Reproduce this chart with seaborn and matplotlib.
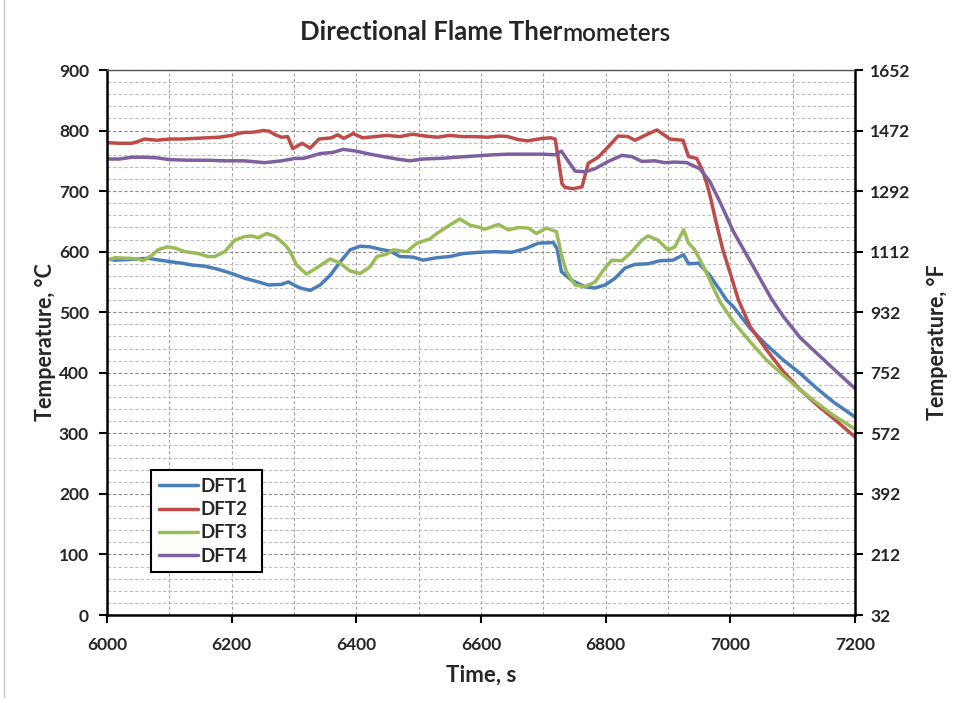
import numpy as np
import pandas as pd
import matplotlib
matplotlib.use("Agg")
import matplotlib.pyplot as plt
from matplotlib.ticker import MultipleLocator, FixedLocator
import seaborn as sns

# ---- measured data: time (s) and temperature (°C) for each thermometer ----
t_dft1 = [6000, 6013, 6034, 6050, 6066, 6085, 6104, 6120, 6136, 6157, 6178, 6200, 6221,
          6243, 6259, 6280, 6291, 6302, 6310, 6326, 6342, 6358, 6374, 6390, 6406, 6422,
          6438, 6454, 6470, 6491, 6507, 6529, 6550, 6572, 6598, 6622, 6649, 6671, 6692,
          6716, 6722, 6729, 6745, 6767, 6783, 6799, 6815, 6831, 6847, 6868, 6887, 6908,
          6925, 6933, 6949, 6967, 6983, 6994, 7005, 7032, 7058, 7085, 7112, 7139, 7165, 7200]
v_dft1 = [588, 586, 587, 588, 589, 586, 583, 581, 578, 576, 571, 564, 556,
          550, 545, 546, 550, 544, 540, 536, 545, 561, 583, 603, 609, 608,
          604, 601, 592, 591, 586, 590, 592, 597, 599, 600, 599, 605, 614,
          615, 605, 567, 553, 542, 540, 545, 556, 573, 579, 580, 585, 586,
          595, 580, 581, 561, 537, 520, 509, 473, 446, 421, 399, 374, 352, 327]

t_dft2 = [6000, 6020, 6040, 6050, 6060, 6070, 6080, 6100, 6120, 6140, 6160, 6180, 6200,
          6210, 6220, 6230, 6240, 6250, 6260, 6270, 6280, 6290, 6298, 6313, 6326, 6340,
          6360, 6370, 6380, 6395, 6410, 6430, 6450, 6470, 6490, 6510, 6530, 6550, 6570,
          6590, 6610, 6630, 6643, 6660, 6675, 6698, 6712, 6719, 6723, 6730, 6735, 6748,
          6762, 6772, 6788, 6804, 6820, 6836, 6847, 6863, 6882, 6895, 6903, 6924, 6933,
          6946, 6955, 6962, 6968, 6975, 6988, 7000, 7013, 7032, 7058, 7085, 7112, 7139,
          7165, 7200]
v_dft2 = [780, 779, 779, 782, 786, 785, 784, 786, 786, 787, 788, 789, 792,
          795, 797, 797, 798, 800, 799, 793, 789, 790, 770, 779, 771, 786,
          788, 793, 787, 795, 788, 790, 792, 790, 794, 791, 789, 792, 790,
          790, 789, 791, 790, 785, 783, 787, 788, 786, 760, 712, 706, 704,
          707, 746, 756, 773, 791, 790, 784, 792, 801, 792, 786, 784, 757,
          754, 735, 713, 690, 658, 603, 564, 520, 476, 438, 402, 372, 347,
          325, 294]

t_dft3 = [6000, 6013, 6034, 6050, 6058, 6072, 6082, 6096, 6109, 6125, 6146, 6162, 6173,
          6189, 6205, 6221, 6232, 6243, 6256, 6270, 6286, 6294, 6304, 6320, 6336, 6358,
          6374, 6390, 6406, 6422, 6433, 6449, 6459, 6481, 6497, 6518, 6529, 6550, 6566,
          6582, 6598, 6606, 6628, 6644, 6660, 6676, 6689, 6705, 6721, 6729, 6737, 6751,
          6767, 6783, 6799, 6810, 6826, 6842, 6858, 6868, 6884, 6895, 6900, 6911, 6925,
          6933, 6943, 6957, 6973, 6983, 7005, 7032, 7058, 7085, 7112, 7139, 7165, 7200]
v_dft3 = [586, 590, 589, 588, 585, 594, 603, 608, 606, 600, 597, 592, 592,
          600, 619, 625, 626, 623, 630, 625, 611, 600, 578, 563, 573, 588,
          581, 568, 564, 575, 592, 596, 603, 600, 614, 621, 630, 644, 654,
          644, 640, 637, 645, 636, 640, 639, 630, 639, 633, 595, 567, 545,
          542, 550, 573, 586, 585, 600, 619, 626, 619, 608, 603, 608, 636,
          614, 603, 575, 540, 518, 484, 451, 421, 396, 372, 350, 330, 307]

t_dft4 = [6000, 6020, 6040, 6060, 6080, 6100, 6130, 6160, 6190, 6220, 6253, 6280, 6302,
          6315, 6342, 6363, 6379, 6400, 6422, 6443, 6465, 6486, 6507, 6534, 6561, 6590,
          6620, 6644, 6670, 6697, 6719, 6729, 6737, 6751, 6767, 6783, 6804, 6826, 6842,
          6858, 6879, 6895, 6910, 6930, 6951, 6967, 6983, 7005, 7026, 7048, 7066, 7085,
          7112, 7139, 7165, 7200]
v_dft4 = [753, 753, 756, 756, 755, 752, 751, 751, 750, 750, 747, 750, 754,
          754, 762, 764, 769, 766, 761, 757, 753, 750, 753, 754, 756, 758,
          760, 761, 761, 761, 760, 766, 754, 733, 732, 737, 749, 759, 757,
          749, 750, 747, 748, 747, 737, 716, 683, 633, 595, 555, 522, 493,
          458, 432, 407, 374]

series_names = ["DFT1", "DFT2", "DFT3", "DFT4"]
series_colors = ["#4A7EBB", "#BE4B48", "#9BBB59", "#7D60A0"]

# Assemble long-form table for seaborn
frames = []
for name, t, v in zip(series_names,
                      [t_dft1, t_dft2, t_dft3, t_dft4],
                      [v_dft1, v_dft2, v_dft3, v_dft4]):
    frames.append(pd.DataFrame({"time": t, "temp": v, "sensor": name}))
df = pd.concat(frames, ignore_index=True)

sns.set_theme(style="white")
plt.rcParams["font.family"] = ["Lato", "DejaVu Sans"]

fig = plt.figure(figsize=(9.56, 7.03), dpi=100)
ax = fig.add_axes([107 / 956, 1 - 615 / 703, 748 / 956, 545 / 703])

sns.lineplot(data=df, x="time", y="temp", hue="sensor", hue_order=series_names,
             palette=series_colors, estimator=None, sort=False, lw=2.5, ax=ax,
             legend=True)

ax.set_xlim(6000, 7200)
ax.set_ylim(0, 900)
ax.xaxis.set_major_locator(MultipleLocator(200))
ax.xaxis.set_minor_locator(MultipleLocator(100))
ax.yaxis.set_major_locator(MultipleLocator(100))
ax.yaxis.set_minor_locator(MultipleLocator(20))

# gridlines
ax.grid(which="major", axis="y", color="#8c8c8c", lw=0.8, ls=(0, (3, 2)))
ax.grid(which="minor", axis="y", color="#bdbdbd", lw=0.8, ls=(0, (3, 2)))
ax.grid(which="both", axis="x", color="#a6a6a6", lw=0.8, ls=(0, (3, 2)))
ax.set_axisbelow(True)

ax.tick_params(axis="both", which="major", direction="out", length=6, width=1.5,
               color="black", labelsize=12.5, left=True, bottom=True)
ax.tick_params(axis="x", which="major", pad=10)
ax.tick_params(axis="y", which="major", pad=7)
ax.tick_params(axis="both", which="minor", length=0)
for lbl in ax.get_xticklabels() + ax.get_yticklabels():
    lbl.set_fontweight("bold")

for side in ["left", "bottom"]:
    ax.spines[side].set_color("black")
    ax.spines[side].set_linewidth(1.8)
ax.spines["top"].set_color("#555555")
ax.spines["top"].set_linewidth(1.0)
ax.spines["right"].set_color("black")
ax.spines["right"].set_linewidth(1.8)

ax.set_xlabel("Time, s", fontsize=16, fontweight="bold", labelpad=8)
ax.set_ylabel("Temperature, °C", fontsize=15.5, fontweight="bold", labelpad=2)

# secondary Fahrenheit axis
ax2 = ax.twinx()
ax2.set_ylim(32, 1652)
ax2.yaxis.set_major_locator(FixedLocator(np.arange(32, 1653, 180)))
ax2.tick_params(axis="y", direction="out", length=6, width=1.5, color="black",
                labelsize=12.5, pad=5, right=True)
for lbl in ax2.get_yticklabels():
    lbl.set_fontweight("bold")
for s in ax2.spines.values():
    s.set_visible(False)
ax2.set_ylabel("Temperature, °F", fontsize=15.5, fontweight="bold", labelpad=12)
ax2.grid(False)

# legend: fixed-width box in the lower-left of the plot area
leg = ax.legend(loc="lower left", bbox_to_anchor=(44 / 748, 43 / 545, 111 / 748, 0),
                mode="expand", borderaxespad=0,
                frameon=True, fancybox=False, edgecolor="black", framealpha=1,
                borderpad=0.4, handlelength=2.1, handletextpad=0.15,
                labelspacing=0.33, prop={"weight": "bold", "size": 13.5}, title=None)
leg.get_frame().set_linewidth(1.5)
for line in leg.get_lines():
    line.set_linewidth(2.5)

# title
fig.text(562 / 956, 1 - 32 / 703, "Directional Flame Ther", ha="right", va="center",
         fontsize=18.5, fontweight="bold")
fig.text(562 / 956, 1 - 33.5 / 703, "mometers", ha="left", va="center",
         fontsize=17.5, fontweight="semibold")

# chart border line on the left
fig.add_artist(plt.Line2D([4 / 956, 4 / 956], [0.008, 1.0], color="#c8c8c8", lw=1,
                          transform=fig.transFigure))

fig.savefig("out.png", dpi=100)
